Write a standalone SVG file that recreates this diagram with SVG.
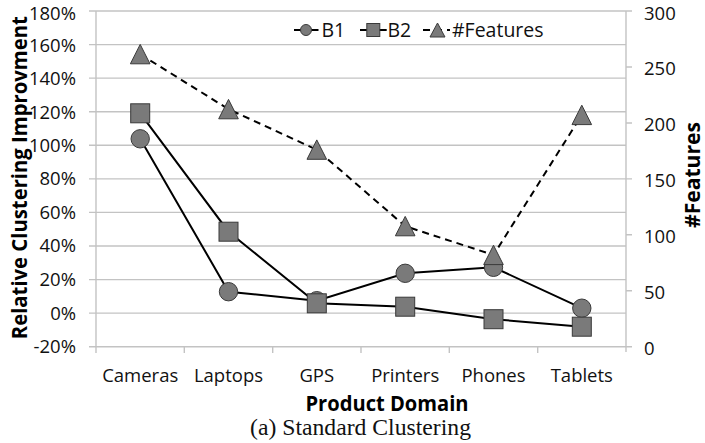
<svg xmlns="http://www.w3.org/2000/svg" xmlns:xlink="http://www.w3.org/1999/xlink" width="705" height="443" viewBox="0 0 705 443">
<style>
.grid{stroke:#c3c3c3;stroke-width:1.4;fill:none}
.tick{font-family:"Open Sans","DejaVu Sans",sans-serif;font-size:18.5px;fill:#111}
.leg{font-family:"Open Sans","DejaVu Sans",sans-serif;font-size:19.5px;fill:#111}
.title{font-family:"Open Sans","DejaVu Sans",sans-serif;font-size:22px;font-weight:bold;fill:#000}
.cap{font-family:"Liberation Serif","DejaVu Serif",serif;font-size:22.5px;fill:#111}
.ser{stroke:#000;stroke-width:2;fill:none}
.dash{stroke:#000;stroke-width:2;fill:none;stroke-dasharray:7 5}
.mk{fill:#7a7a7a;stroke:#3a3a3a;stroke-width:1}
</style>
<defs>
<circle id="mc" cx="0" cy="0" r="9.2" class="mk"/>
<rect id="ms" x="-9.5" y="-9.5" width="19" height="19" class="mk"/>
<polygon id="mt" points="0,-9.8 9.8,9.6 -9.8,9.6" class="mk"/>
<circle id="lc" cx="0" cy="0" r="5.5" class="mk"/>
<rect id="ls" x="-6.5" y="-6.5" width="13" height="13" class="mk"/>
<polygon id="lt" points="0,-7 7.5,7 -7.5,7" class="mk"/>
</defs>
<rect width="705" height="443" fill="#fff"/>
<g id="axes">
<path class="grid" d="M89 11H626M89 44.6H626M89 78.1H626M89 111.7H626M89 145.3H626M89 178.9H626M89 212.4H626M89 246H626M89 279.6H626M89 313.1H626M89 346.7H626"/>
<path class="grid" d="M96 11V353M626 11V352M184.3 346.7V353M272.7 346.7V353M361 346.7V353M449.3 346.7V353M537.7 346.7V353"/>
<path class="grid" d="M626 11H632M626 67H632M626 123H632M626 178.9H632M626 234.8H632M626 290.8H632M626 346.7H632"/>
</g>
<g id="left-axis-labels" class="tick" text-anchor="end">
<text x="76" y="20">180%</text>
<text x="76" y="52">160%</text>
<text x="76" y="85.3">140%</text>
<text x="76" y="118.6">120%</text>
<text x="76" y="151.8">100%</text>
<text x="76" y="185.3">80%</text>
<text x="76" y="218.8">60%</text>
<text x="76" y="252.3">40%</text>
<text x="76" y="285.8">20%</text>
<text x="76" y="319.8">0%</text>
<text x="76" y="353.3">-20%</text>
</g>
<g id="right-axis-labels" class="tick">
<text x="644" y="20">300</text>
<text x="644" y="75">250</text>
<text x="644" y="131">200</text>
<text x="644" y="187">150</text>
<text x="644" y="243">100</text>
<text x="644" y="298.5">50</text>
<text x="644" y="354.5">0</text>
</g>
<g id="category-labels" class="tick" text-anchor="middle">
<text x="140.2" y="381.5">Cameras</text>
<text x="228.5" y="381.5">Laptops</text>
<text x="316.8" y="381.5">GPS</text>
<text x="405.2" y="381.5">Printers</text>
<text x="493.5" y="381.5">Phones</text>
<text x="581.8" y="381.5">Tablets</text>
</g>
<g id="titles">
<text class="title" text-anchor="middle" transform="translate(27 177.7) rotate(-90)" style="font-size:21px" textLength="323" lengthAdjust="spacingAndGlyphs">Relative Clustering Improvment</text>
<text class="title" text-anchor="middle" transform="translate(700 175) rotate(-90)" textLength="106" lengthAdjust="spacingAndGlyphs">#Features</text>
<text class="title" x="387" y="411" text-anchor="middle" textLength="163" lengthAdjust="spacingAndGlyphs">Product Domain</text>
<text class="cap" x="360.5" y="435" text-anchor="middle" textLength="221" lengthAdjust="spacingAndGlyphs">(a) Standard Clustering</text>
</g>
<g id="connectors">
<polyline id="B1-line" class="ser" points="140.2,138.8 228.5,291.7 316.8,300.7 405.2,273.3 493.5,267.3 581.8,308.2"/>
<polyline id="B2-line" class="ser" points="140.2,113.3 228.5,231.7 316.8,303.3 405.2,306.7 493.5,319.2 581.8,326.7"/>
<polyline id="Features-line" class="dash" points="140.2,54.2 228.5,109.2 316.8,149.7 405.2,226.2 493.5,255 581.8,115"/>
</g>
<g id="B1">
<use xlink:href="#mc" href="#mc" x="140.2" y="138.8"/>
<use xlink:href="#mc" href="#mc" x="228.5" y="291.7"/>
<use xlink:href="#mc" href="#mc" x="316.8" y="300.7"/>
<use xlink:href="#mc" href="#mc" x="405.2" y="273.3"/>
<use xlink:href="#mc" href="#mc" x="493.5" y="267.3"/>
<use xlink:href="#mc" href="#mc" x="581.8" y="308.2"/>
</g>
<g id="B2">
<use xlink:href="#ms" href="#ms" x="140.2" y="113.3"/>
<use xlink:href="#ms" href="#ms" x="228.5" y="231.7"/>
<use xlink:href="#ms" href="#ms" x="316.8" y="303.3"/>
<use xlink:href="#ms" href="#ms" x="405.2" y="306.7"/>
<use xlink:href="#ms" href="#ms" x="493.5" y="319.2"/>
<use xlink:href="#ms" href="#ms" x="581.8" y="326.7"/>
</g>
<g id="Features">
<use xlink:href="#mt" href="#mt" x="140.2" y="54.2"/>
<use xlink:href="#mt" href="#mt" x="228.5" y="109.2"/>
<use xlink:href="#mt" href="#mt" x="316.8" y="149.7"/>
<use xlink:href="#mt" href="#mt" x="405.2" y="226.2"/>
<use xlink:href="#mt" href="#mt" x="493.5" y="255"/>
<use xlink:href="#mt" href="#mt" x="581.8" y="115"/>
</g>
<g id="legend">
<path class="ser" d="M294 30H318.5M360 30H386.7"/>
<path class="dash" d="M423 30H450" stroke-dasharray="5 9"/>
<use xlink:href="#lc" href="#lc" x="306" y="30"/>
<use xlink:href="#ls" href="#ls" x="373.3" y="30"/>
<use xlink:href="#lt" href="#lt" x="437.5" y="30"/>
<text class="leg" x="321.5" y="36.8">B1</text>
<text class="leg" x="387.5" y="36.8">B2</text>
<text class="leg" x="452" y="36.8">#Features</text>
</g>
</svg>
